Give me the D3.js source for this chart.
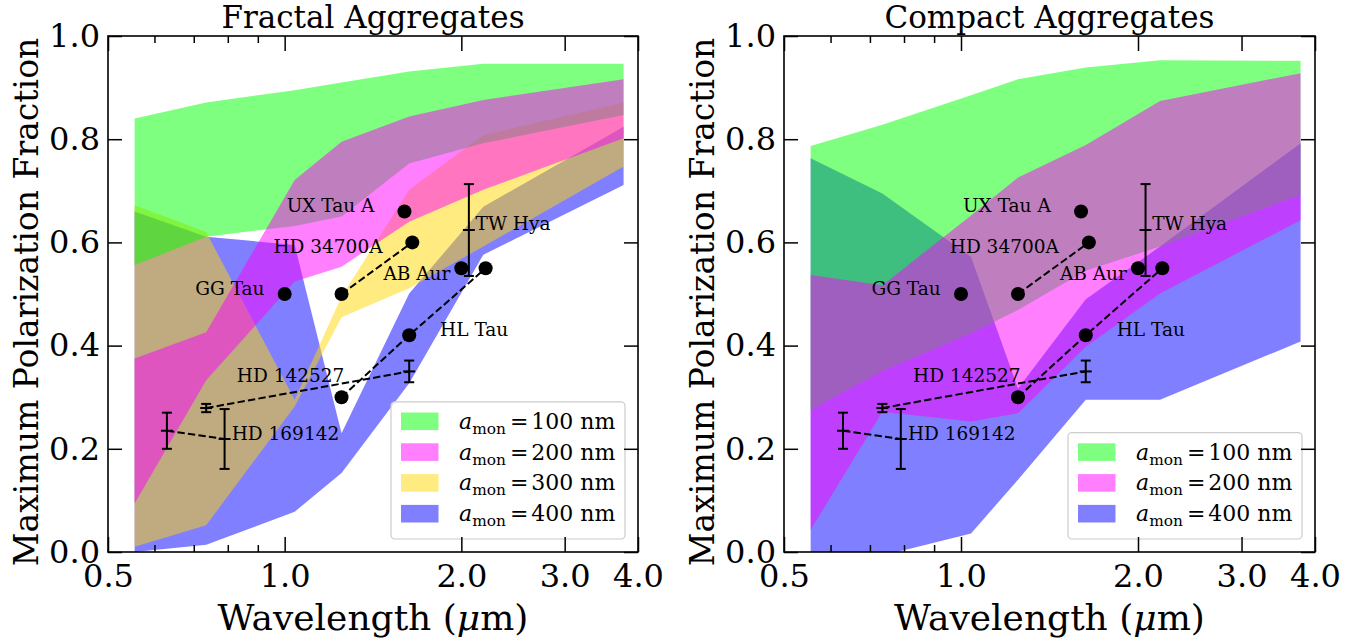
<!DOCTYPE html>
<html><head><meta charset="utf-8">
<script src="https://cdn.jsdelivr.net/npm/d3@7"></script>
<style>body{margin:0;background:#fff}svg{display:block}</style>
</head><body><svg id="chart" width="1369" height="641"></svg>
<script>
// ---------------- data ----------------
const wavelengths = [0.555, 0.735, 1.04, 1.25, 1.63, 2.18, 3.78];

// Fractal aggregates (left panel)
const fractal100Low  = [0.556, 0.611, 0.632, 0.650, 0.753, 0.792, 0.847];
const fractal100High = [0.840, 0.871, 0.895, 0.910, 0.931, 0.946, 0.946];
const fractal200Low  = [0.094, 0.333, 0.524, 0.553, 0.640, 0.702, 0.802];
const fractal200High = [0.375, 0.426, 0.721, 0.795, 0.844, 0.876, 0.916];
const fractal300Low  = [0.010, 0.052, 0.282, 0.455, 0.511, 0.592, 0.747];
const fractal300High = [0.672, 0.620, 0.295, 0.495, 0.702, 0.808, 0.871];
const fractal400Low  = [0.000, 0.014, 0.078, 0.153, 0.327, 0.576, 0.711];
const fractal400High = [0.660, 0.611, 0.595, 0.230, 0.501, 0.669, 0.824];

// Compact aggregates (right panel)
const compact100Low  = [0.275, 0.351, 0.424, 0.469, 0.545, 0.592, 0.692];
const compact100High = [0.787, 0.828, 0.885, 0.916, 0.939, 0.953, 0.952];
const compact200Low  = [0.043, 0.272, 0.253, 0.269, 0.398, 0.501, 0.643];
const compact200High = [0.537, 0.517, 0.652, 0.726, 0.789, 0.874, 0.928];
const compact400Low  = [-0.020, -0.007, 0.036, 0.140, 0.295, 0.295, 0.408];
const compact400High = [0.763, 0.695, 0.572, 0.317, 0.490, 0.592, 0.792];

// Observations without error bars
const pointStar = ["GG Tau", "UX Tau A", "AB Aur", "HD 34700A", "HD 34700A", "HL Tau", "HL Tau", "HL Tau"];
const pointLam  = [1.0, 1.6, 2.0, 1.25, 1.65, 1.25, 1.63, 2.2];
const pointPol  = [0.50, 0.66, 0.55, 0.50, 0.60, 0.30, 0.42, 0.55];

// Observations with error bars
const errStar = ["TW Hya", "HD 142527", "HD 142527", "HD 169142", "HD 169142"];
const errLam  = [2.06, 0.735, 1.63, 0.63, 0.79];
const errPol  = [0.624, 0.279, 0.350, 0.235, 0.219];
const errSize = [0.089, 0.008, 0.021, 0.035, 0.058];

// Star labels (anchor in data coordinates)
const labelText = ["UX Tau A", "HD 34700A", "GG Tau", "AB Aur", "TW Hya", "HL Tau", "HD 142527", "HD 169142"];
const labelLam  = [1.008, 0.957, 0.704, 1.473, 2.115, 1.84, 0.829, 0.8125];
const labelPol  = [0.658, 0.579, 0.498, 0.528, 0.624, 0.419, 0.329, 0.218];

// Axis ticks
const xMajorTicks = [0.5, 1.0, 2.0, 3.0, 4.0];
const xMinorTicks = [0.6, 0.7, 0.8, 0.9];
const yTicks = [0.0, 0.2, 0.4, 0.6, 0.8, 1.0];

const monomerSizes = [100, 200, 300, 400];
const bandColors = {100: "#00ff00", 200: "#ff00ff", 300: "#ffd700", 400: "#0000ff"};

// ---------------- layout ----------------
const FONT = "DejaVu Serif";
const svg = d3.select("#chart");
const yTop = 36, yBot = 552;

const panels = [
  { title: "Fractal Aggregates", left: 108, right: 638,
    bands: [ {size: 400, lo: fractal400Low, hi: fractal400High},
             {size: 300, lo: fractal300Low, hi: fractal300High},
             {size: 100, lo: fractal100Low, hi: fractal100High},
             {size: 200, lo: fractal200Low, hi: fractal200High} ],
    legendSizes: [100, 200, 300, 400] },
  { title: "Compact Aggregates", left: 784, right: 1315,
    bands: [ {size: 400, lo: compact400Low, hi: compact400High},
             {size: 100, lo: compact100Low, hi: compact100High},
             {size: 200, lo: compact200Low, hi: compact200High} ],
    legendSizes: [100, 200, 400] }
];

panels.forEach((p, pi) => {
  const x = d3.scaleLog().domain([0.5, 4.0]).range([p.left, p.right]);
  const y = d3.scaleLinear().domain([0, 1]).range([yBot, yTop]);
  const g = svg.append("g");

  const clipId = "clip" + pi;
  svg.append("clipPath").attr("id", clipId).append("rect")
    .attr("x", p.left).attr("y", yTop).attr("width", p.right - p.left).attr("height", yBot - yTop);

  // bands
  const area = d3.area().x(d => x(d.lam)).y0(d => y(d.lo)).y1(d => y(d.hi));
  const bandG = g.append("g").attr("clip-path", `url(#${clipId})`);
  p.bands.forEach(b => {
    const rows = wavelengths.map((l, i) => ({lam: l, lo: b.lo[i], hi: b.hi[i]}));
    bandG.append("path").attr("d", area(rows))
      .attr("fill", bandColors[b.size]).attr("fill-opacity", 0.5).attr("stroke", "none");
  });

  // dashed connecting lines
  const line = d3.line().x(d => x(d.lam)).y(d => y(d.pol));
  const groups = {};
  pointStar.forEach((s, i) => { (groups[s] = groups[s] || []).push({lam: pointLam[i], pol: pointPol[i]}); });
  errStar.forEach((s, i) => { (groups[s] = groups[s] || []).push({lam: errLam[i], pol: errPol[i]}); });
  Object.keys(groups).forEach(s => {
    const pts = groups[s].sort((a, b) => a.lam - b.lam);
    if (pts.length > 1) {
      g.append("path").attr("d", line(pts)).attr("fill", "none").attr("stroke", "#000")
        .attr("stroke-width", 2).attr("stroke-dasharray", "7.4,3.2");
    }
  });

  // error bars
  errStar.forEach((s, i) => {
    const cx = x(errLam[i]);
    const eg = g.append("g").attr("stroke", "#000").attr("stroke-width", 2);
    eg.append("line").attr("x1", cx).attr("x2", cx).attr("y1", y(errPol[i] - errSize[i])).attr("y2", y(errPol[i] + errSize[i]));
    [errPol[i] - errSize[i], errPol[i] + errSize[i]].forEach(v => {
      eg.append("line").attr("x1", cx - 5).attr("x2", cx + 5).attr("y1", y(v)).attr("y2", y(v));
    });
    eg.append("line").attr("x1", cx - 6).attr("x2", cx + 6).attr("y1", y(errPol[i])).attr("y2", y(errPol[i]));
  });

  // points
  g.selectAll(null).data(pointLam).enter().append("circle")
    .attr("cx", (d) => x(d)).attr("cy", (d, i) => y(pointPol[i])).attr("r", 7).attr("fill", "#000");

  // labels
  g.selectAll(null).data(labelText).enter().append("text")
    .attr("x", (d, i) => x(labelLam[i])).attr("y", (d, i) => y(labelPol[i]))
    .attr("font-family", FONT).attr("font-size", 18.5).attr("fill", "#000").text(d => d);

  // legend
  const n = p.legendSizes.length;
  const rowH = 30.8;
  const lgRight = p.right - 13, lgBottom = yBot - 13;
  const lgW = 234, lgH = 12 + n * rowH + 2;
  const lg = g.append("g");
  lg.append("rect").attr("x", lgRight - lgW).attr("y", lgBottom - lgH).attr("width", lgW).attr("height", lgH)
    .attr("rx", 4).attr("fill", "#fff").attr("fill-opacity", 0.8).attr("stroke", "#cccccc").attr("stroke-width", 1.2);
  p.legendSizes.forEach((s, i) => {
    const cy = lgBottom - lgH + 19.5 + i * rowH;
    lg.append("rect").attr("x", lgRight - lgW + 10).attr("y", cy - 8.8).attr("width", 37.5).attr("height", 17.6)
      .attr("fill", bandColors[s]).attr("fill-opacity", 0.5);
    const t = lg.append("text").attr("x", lgRight - lgW + 68).attr("y", cy + 7.5)
      .attr("font-family", FONT).attr("font-size", 22).attr("fill", "#000");
    t.append("tspan").attr("font-style", "italic").text("a");
    t.append("tspan").attr("font-size", 15.4).attr("dy", 5).text("mon");
    t.append("tspan").attr("dy", -5).attr("dx", 4).text("=");
    t.append("tspan").attr("dx", 3).text(s + " nm");
  });

  // axes (inward ticks)
  const fmt = d3.format(".1f");
  const styleAxis = sel => {
    sel.select(".domain").remove();
    sel.selectAll(".tick line").attr("stroke", "#000").attr("stroke-width", 1.5);
    sel.selectAll(".tick text").attr("font-family", FONT).attr("font-size", 32).attr("fill", "#000");
  };
  g.append("g").attr("transform", `translate(0,${yBot})`)
    .call(d3.axisBottom(x).tickValues(xMajorTicks).tickFormat(fmt).tickSize(-15).tickPadding(12)).call(styleAxis);
  g.append("g").attr("transform", `translate(0,${yBot})`)
    .call(d3.axisBottom(x).tickValues(xMinorTicks).tickFormat("").tickSize(-7)).call(styleAxis);
  g.append("g").attr("transform", `translate(0,${yTop})`)
    .call(d3.axisTop(x).tickValues(xMajorTicks).tickFormat("").tickSize(-15)).call(styleAxis);
  g.append("g").attr("transform", `translate(0,${yTop})`)
    .call(d3.axisTop(x).tickValues(xMinorTicks).tickFormat("").tickSize(-7)).call(styleAxis);
  g.append("g").attr("transform", `translate(${p.left},0)`)
    .call(d3.axisLeft(y).tickValues(yTicks).tickFormat(fmt).tickSize(-14).tickPadding(8)).call(styleAxis);
  g.append("g").attr("transform", `translate(${p.right},0)`)
    .call(d3.axisRight(y).tickValues(yTicks).tickFormat("").tickSize(-14)).call(styleAxis);

  // frame
  g.append("rect").attr("x", p.left).attr("y", yTop).attr("width", p.right - p.left).attr("height", yBot - yTop)
    .attr("fill", "none").attr("stroke", "#000").attr("stroke-width", 1.6);

  // title
  const cx = (p.left + p.right) / 2;
  g.append("text").attr("x", cx).attr("y", 28).attr("text-anchor", "middle")
    .attr("font-family", FONT).attr("font-size", 31).text(p.title);

  // x label
  const xl = g.append("text").attr("x", cx).attr("y", 630).attr("text-anchor", "middle")
    .attr("font-family", FONT).attr("font-size", 36);
  xl.append("tspan").text("Wavelength (");
  xl.append("tspan").attr("font-style", "italic").text("μ");
  xl.append("tspan").text("m)");

  // y label
  g.append("text").attr("transform", `translate(${p.left - 70},${(yTop + yBot) / 2 + 8}) rotate(-90)`)
    .attr("text-anchor", "middle").attr("font-family", FONT).attr("font-size", 33)
    .text("Maximum Polarization Fraction");
});
</script></body></html>
